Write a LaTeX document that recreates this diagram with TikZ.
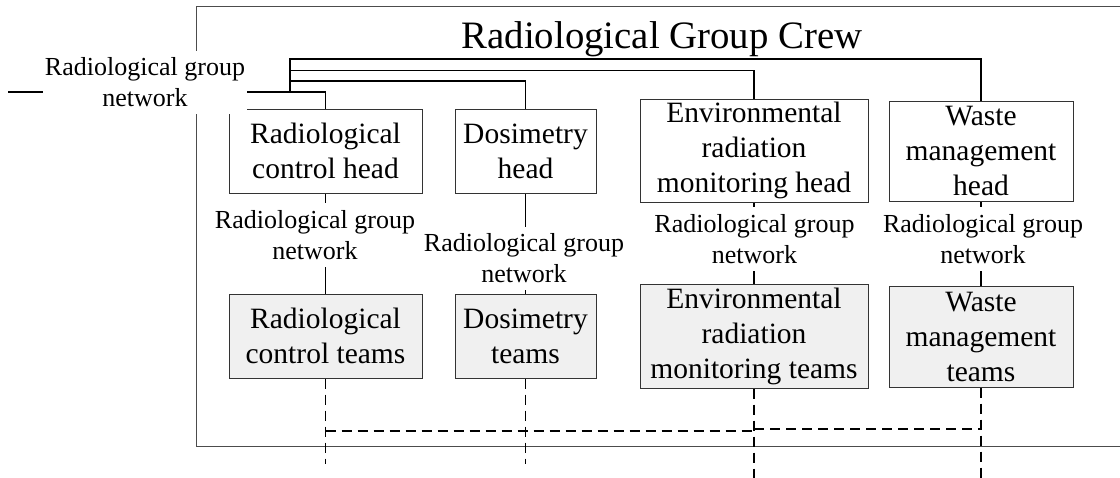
\documentclass[tikz,border=0pt]{standalone}
\usepackage{fontspec}
\setmainfont{Liberation Serif}
\usetikzlibrary{backgrounds}
\begin{document}
\begin{tikzpicture}[x=1pt,y=-1pt,
  head/.style={draw=black!80, line width=1pt, fill=white, align=center,
    inner sep=0pt, font=\fontsize{29.5}{35}\selectfont},
  team/.style={head, fill=black!6},
  netlabel/.style={fill=white, align=center, inner xsep=2pt, inner ysep=7pt,
    font=\fontsize{26}{31}\selectfont},
  link/.style={line width=1.3pt, draw=black},
  dlink/.style={line width=1.4pt, draw=black, dash pattern=on 10pt off 6pt},
  frame/.style={draw=black!70, line width=0.9pt}]
\clip (0,0) rectangle (1120,477);

% title
\node[font=\fontsize{38.8}{46}\selectfont, anchor=base, inner sep=0pt] (title)
  at (662,48) {Radiological Group Crew};

% heads
\node[head, minimum width=193pt, minimum height=84pt]  (rh) at (325.5,151)   {Radiological\\control head};
\node[head, minimum width=141pt, minimum height=84pt]  (dh) at (525.5,151)   {Dosimetry\\head};
\node[head, minimum width=228pt, minimum height=103pt] (eh) at (754,150.5)   {Environmental\\radiation\\monitoring head};
\node[head, minimum width=184pt, minimum height=100pt] (wh) at (981,151)     {Waste\\management\\head};

% teams
\node[team, minimum width=193pt, minimum height=84pt]  (rt) at (325.5,336)   {Radiological\\control teams};
\node[team, minimum width=141pt, minimum height=84pt]  (dt) at (525.5,336)   {Dosimetry\\teams};
\node[team, minimum width=228pt, minimum height=104pt] (et) at (754,336)     {Environmental\\radiation\\monitoring teams};
\node[team, minimum width=184pt, minimum height=101pt] (wt) at (981,336.5)   {Waste\\management\\teams};

% network labels
\node[netlabel] (ln) at (145,82.5)  {Radiological group\\network};
\node[netlabel] (rn) at (315,235)   {Radiological group\\network};
\node[netlabel] (dn) at (524,258.5) {Radiological group\\network};
\node[netlabel] (en) at (754.5,239) {Radiological group\\network};
\node[netlabel] (wn) at (983,239)   {Radiological group\\network};

% bus coordinates
\coordinate (stub) at (8,92);
\coordinate (bus)  at (290,92);
\coordinate (b1)   at (290,59);
\coordinate (b2)   at (290,70.5);
\coordinate (b3)   at (290,81);
\coordinate (dlow) at (0,464);
\coordinate (dbot) at (0,480);
\coordinate (h1)   at (0,431);
\coordinate (h2)   at (0,429);

\begin{pgfonlayer}{background}
  \draw[frame] (196,6.5) rectangle (1130,446);
  % radiological group network bus
  \draw[link] (stub) -- (rh.north |- stub) -- (rh.north);
  \draw[link] (bus) -- (b1) -| (wh.north);
  \draw[link] (b2) -| (eh.north);
  \draw[link] (b3) -| (dh.north);
  % head to team links
  \draw[link] (rh.south) -- (rt.north);
  \draw[link] (dh.south) -- (dt.north);
  \draw[link] (eh.south) -- (et.north);
  \draw[link] (wh.south) -- (wt.north);
  % dashed links below teams
  \draw[dlink] (rt.south) -- (rt.south |- dlow);
  \draw[dlink] (dt.south) -- (dt.south |- dlow);
  \draw[dlink] (et.south) -- (et.south |- dbot);
  \draw[dlink] (wt.south) -- (wt.south |- dbot);
  \draw[dlink] (rt.south |- h1) -- (et.south |- h1);
  \draw[dlink] (et.south |- h2) -- (wt.south |- h2);
\end{pgfonlayer}
\end{tikzpicture}
\end{document}
